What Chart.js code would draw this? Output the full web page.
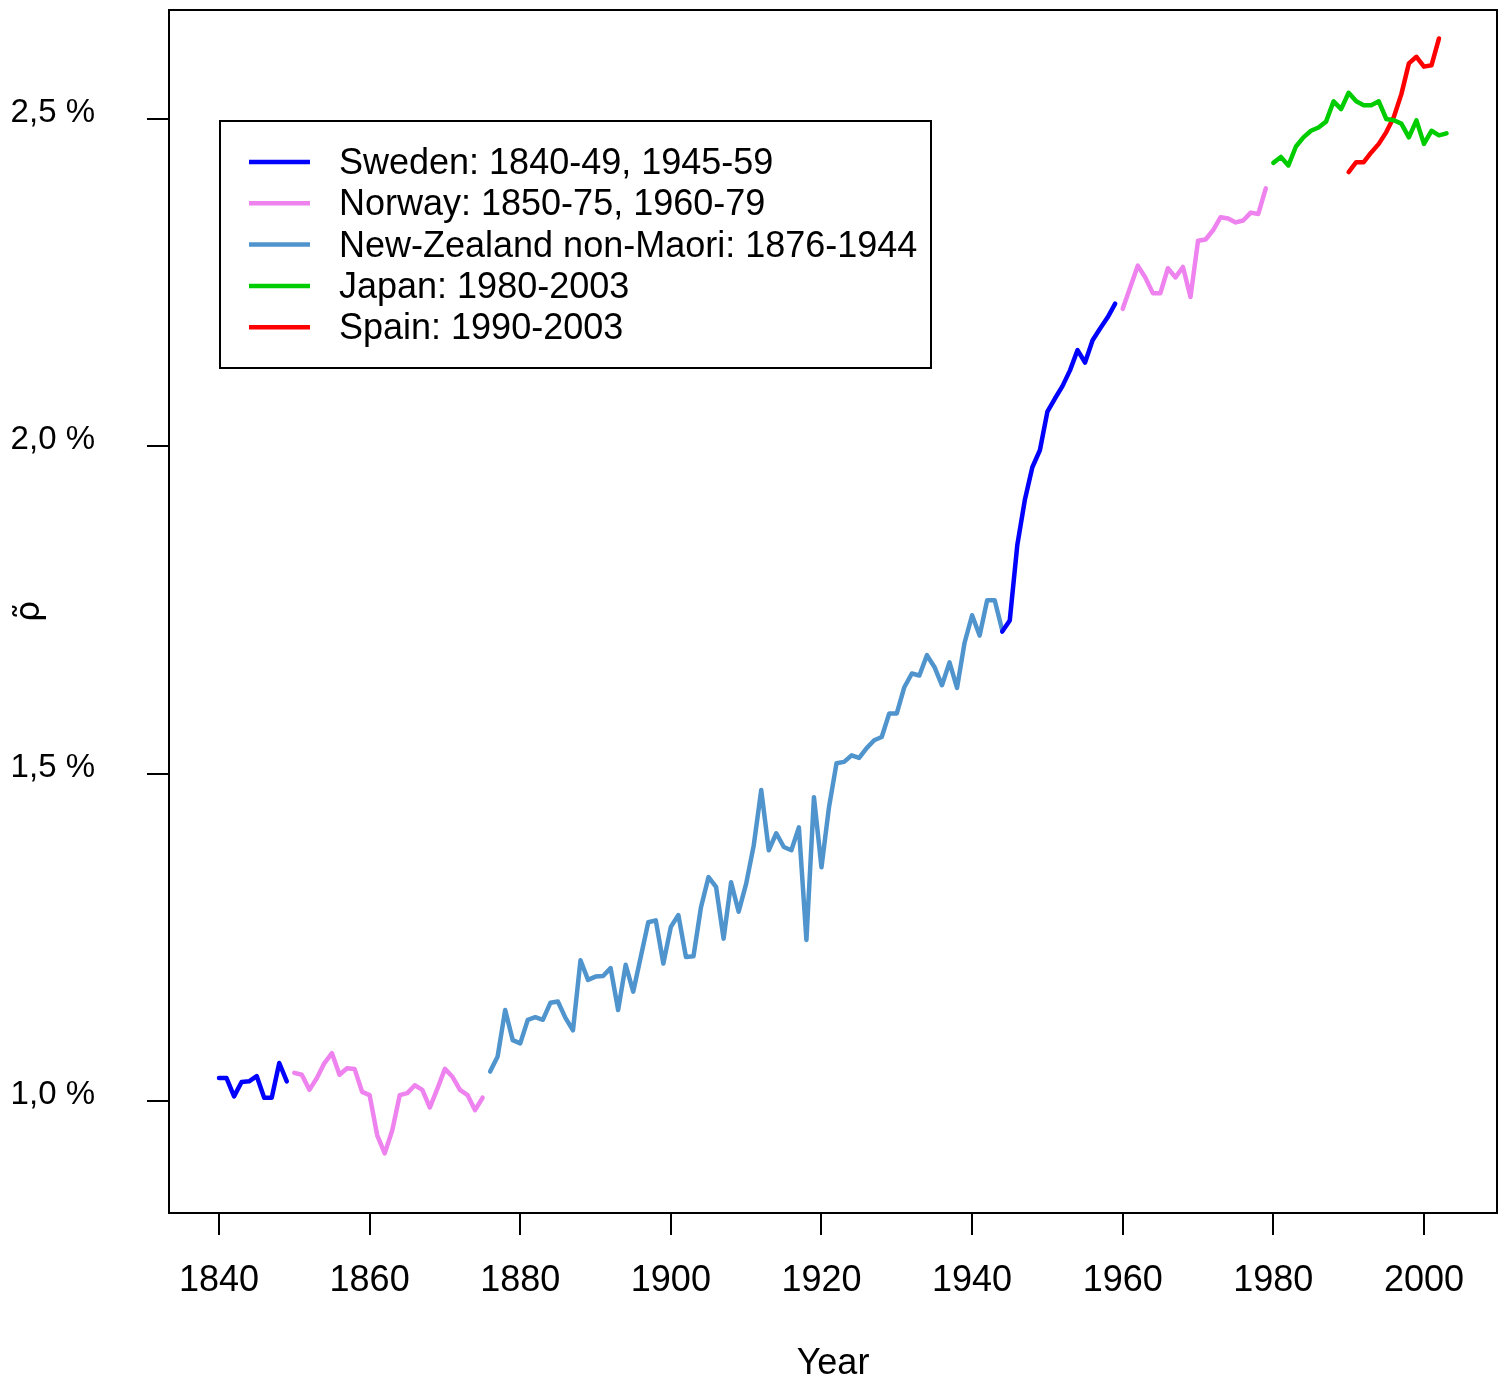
<!DOCTYPE html>
<html><head><meta charset="utf-8">
<style>html,body{margin:0;padding:0;background:#fff}#wrap{width:1499px;height:1380px}</style>
<script src="https://cdn.jsdelivr.net/npm/chart.js@4.4.0/dist/chart.umd.min.js"></script>
</head><body><div id="wrap"><canvas id="c" width="1499" height="1380"></canvas></div>
<script>
const xTicks = [1840, 1860, 1880, 1900, 1920, 1940, 1960, 1980, 2000];
const yTicks = [1.0, 1.5, 2.0, 2.5];
const yTickLabels = ['1,0 %', '1,5 %', '2,0 %', '2,5 %'];

const seriesLabels = ['Sweden: 1840-49, 1945-59', 'Norway: 1850-75, 1960-79', 'New-Zealand non-Maori: 1876-1944', 'Japan: 1980-2003', 'Spain: 1990-2003'];

const swedenYears1 = [1840,1841,1842,1843,1844,1845,1846,1847,1848,1849];
const swedenVals1 = [1.035,1.035,1.007,1.029,1.030,1.038,1.005,1.005,1.058,1.030];
const swedenYears2 = [1944,1945,1946,1947,1948,1949,1950,1951,1952,1953,1954,1955,1956,1957,1958,1959];
const swedenVals2 = [1.717,1.734,1.849,1.918,1.968,1.994,2.053,2.073,2.092,2.116,2.147,2.128,2.162,2.180,2.197,2.218];

const norwayYears1 = [1850,1851,1852,1853,1854,1855,1856,1857,1858,1859,1860,1861,1862,1863,1864,1865,1866,1867,1868,1869,1870,1871,1872,1873,1874,1875];
const norwayVals1 = [1.043,1.040,1.017,1.035,1.058,1.073,1.040,1.050,1.049,1.014,1.009,0.948,0.920,0.955,1.009,1.012,1.024,1.017,0.990,1.019,1.049,1.037,1.017,1.009,0.986,1.005];
const norwayYears2 = [1960,1961,1962,1963,1964,1965,1966,1967,1968,1969,1970,1971,1972,1973,1974,1975,1976,1977,1978,1979];
const norwayVals2 = [2.210,2.243,2.276,2.258,2.234,2.234,2.272,2.258,2.274,2.228,2.314,2.316,2.330,2.350,2.348,2.342,2.345,2.357,2.355,2.394];

const nzYears = [1876,1877,1878,1879,1880,1881,1882,1883,1884,1885,1886,1887,1888,1889,1890,1891,1892,1893,1894,1895,1896,1897,1898,1899,1900,1901,1902,1903,1904,1905,1906,1907,1908,1909,1910,1911,1912,1913,1914,1915,1916,1917,1918,1919,1920,1921,1922,1923,1924,1925,1926,1927,1928,1929,1930,1931,1932,1933,1934,1935,1936,1937,1938,1939,1940,1941,1942,1943,1944];
const nzVals = [1.045,1.068,1.139,1.093,1.088,1.124,1.128,1.124,1.150,1.152,1.127,1.108,1.215,1.185,1.190,1.191,1.203,1.139,1.208,1.167,1.220,1.273,1.276,1.210,1.266,1.284,1.220,1.221,1.296,1.342,1.327,1.248,1.334,1.289,1.332,1.390,1.475,1.383,1.409,1.388,1.383,1.418,1.246,1.464,1.357,1.449,1.516,1.518,1.528,1.524,1.539,1.551,1.556,1.592,1.592,1.632,1.653,1.650,1.681,1.663,1.635,1.670,1.631,1.700,1.742,1.711,1.765,1.765,1.719];

const japanYears = [1980,1981,1982,1983,1984,1985,1986,1987,1988,1989,1990,1991,1992,1993,1994,1995,1996,1997,1998,1999,2000,2001,2002,2003];
const japanVals = [2.433,2.442,2.429,2.458,2.472,2.482,2.487,2.496,2.527,2.515,2.540,2.527,2.521,2.521,2.527,2.500,2.498,2.493,2.472,2.498,2.462,2.482,2.475,2.478];

const spainYears = [1990,1991,1992,1993,1994,1995,1996,1997,1998,1999,2000,2001,2002];
const spainVals = [2.419,2.434,2.434,2.449,2.462,2.480,2.503,2.538,2.585,2.595,2.580,2.582,2.623];

const seriesColors = ['#0000FF', '#EE82EE', '#4F94CD', '#00CD00', '#FF0000'];

function pts(years, vals) { return years.map((x, i) => ({x: x, y: vals[i]})); }
function gap(a, b) { return {x: (a + b) / 2, y: null}; }

const FONT = "'Liberation Sans', Arial, Helvetica, sans-serif";

const datasets = [
  {label: seriesLabels[0], data: [...pts(swedenYears1, swedenVals1), gap(swedenYears1[swedenYears1.length-1], swedenYears2[0]), ...pts(swedenYears2, swedenVals2)]},
  {label: seriesLabels[1], data: [...pts(norwayYears1, norwayVals1), gap(norwayYears1[norwayYears1.length-1], norwayYears2[0]), ...pts(norwayYears2, norwayVals2)]},
  {label: seriesLabels[2], data: pts(nzYears, nzVals)},
  {label: seriesLabels[3], data: pts(japanYears, japanVals)},
  {label: seriesLabels[4], data: pts(spainYears, spainVals)}
].map((d, i) => Object.assign(d, {borderColor: seriesColors[i], backgroundColor: seriesColors[i], borderWidth: 4.5, pointRadius: 0, tension: 0, spanGaps: false, fill: false, borderJoinStyle: 'round', borderCapStyle: 'round'}));

const boxPlugin = {
  id: 'boxAndLegend',
  afterDraw(chart) {
    const ctx = chart.ctx, ca = chart.chartArea;
    ctx.save();
    ctx.strokeStyle = '#000';
    ctx.lineWidth = 2;
    ctx.strokeRect(ca.left, ca.top, ca.right - ca.left, ca.bottom - ca.top);
    // legend
    const lx = 220, ly = 121, lw = 711, lh = 247;
    ctx.fillStyle = '#fff';
    ctx.fillRect(lx, ly, lw, lh);
    ctx.strokeRect(lx, ly, lw, lh);
    ctx.font = '36px ' + FONT;
    ctx.textBaseline = 'middle';
    ctx.textAlign = 'left';
    chart.data.datasets.forEach((ds, i) => {
      const y = 162 + i * 41.3;
      ctx.strokeStyle = ds.borderColor;
      ctx.lineWidth = 4.5;
      ctx.beginPath(); ctx.moveTo(249, y); ctx.lineTo(310, y); ctx.stroke();
      ctx.fillStyle = '#000';
      ctx.fillText(ds.label, 339, y + 2);
    });
    ctx.restore();
  }
};

new Chart(document.getElementById('c'), {
  type: 'line',
  data: {datasets: datasets},
  options: {
    responsive: false,
    animation: false,
    layout: {padding: {top: 10, right: 2, left: 0, bottom: 0}},
    plugins: {legend: {display: false}, tooltip: {enabled: false}},
    scales: {
      x: {
        type: 'linear', min: 1833.36, max: 2009.70,
        afterBuildTicks: s => { s.ticks = xTicks.map(v => ({value: v})); },
        afterFit: s => { s.height = 167; s.paddingLeft = 0; s.paddingRight = 0; },
        grid: {drawOnChartArea: false, drawTicks: true, tickLength: 22, color: '#000', lineWidth: 2},
        border: {display: true, color: '#000', width: 2},
        ticks: {color: '#000', font: {size: 36, family: FONT}, padding: 24, maxRotation: 0, autoSkip: false, callback: v => String(v)},
        title: {display: true, text: 'Year', color: '#000', font: {size: 36, family: FONT}, padding: {top: 0, bottom: -6}}
      },
      y: {
        type: 'linear', min: 0.8289, max: 2.6665,
        afterBuildTicks: s => { s.ticks = yTicks.map(v => ({value: v})); },
        afterFit: s => { s.width = 169; s.paddingTop = 0; s.paddingBottom = 0; },
        grid: {drawOnChartArea: false, drawTicks: true, tickLength: 22, color: '#000', lineWidth: 2},
        border: {display: true, color: '#000', width: 2},
        ticks: {color: '#000', font: {size: 33, family: FONT}, padding: 52, labelOffset: -6, callback: (v, i) => yTickLabels[yTicks.indexOf(v)]},
        title: {display: true, text: '\u03C1\u0303', color: '#000', font: {size: 34, family: "'DejaVu Sans', sans-serif"}, padding: {top: 10, bottom: 0}}
      }
    }
  },
  plugins: [boxPlugin]
});
</script></body></html>
